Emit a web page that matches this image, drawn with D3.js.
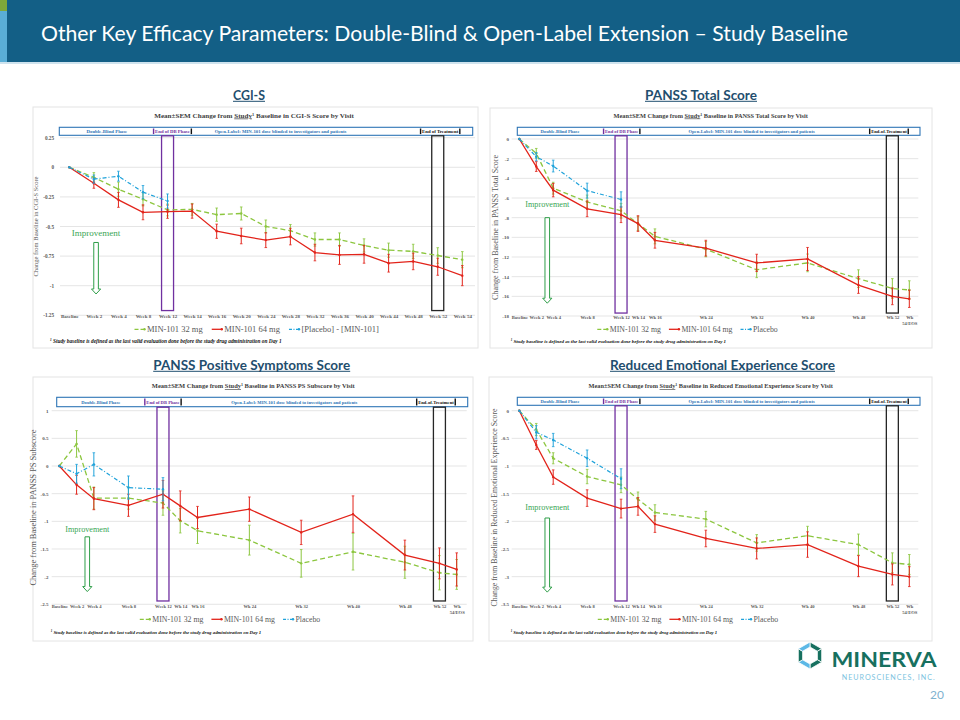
<!DOCTYPE html>
<html><head><meta charset="utf-8">
<script src="https://cdn.jsdelivr.net/npm/d3@7"></script>
<style>body{margin:0;background:#fff}svg{display:block}</style>
</head><body>
<svg id="c" width="960" height="720"></svg>
<script>
// ---------------- DATA ----------------
const cgiLabels = ["Baseline","Week 2","Week 4","Week 8","Week 12","Week 14","Week 16","Week 20","Week 24","Week 28","Week 32","Week 36","Week 40","Week 44","Week 48","Week 52","Week 54"];
const cgiSlots = [0,1,2,3,4,5,6,7,8,9,10,11,12,13,14,15,16];
const cgi32 = [0,-0.085,-0.185,-0.27,-0.36,-0.355,-0.40,-0.39,-0.50,-0.535,-0.61,-0.61,-0.66,-0.70,-0.71,-0.745,-0.78];
const cgi32Err = [0,0.04,0.06,0.056,0.05,0.05,0.056,0.055,0.055,0.052,0.056,0.056,0.056,0.06,0.06,0.066,0.068];
const cgi64 = [0,-0.135,-0.275,-0.38,-0.375,-0.37,-0.54,-0.58,-0.615,-0.585,-0.72,-0.74,-0.735,-0.81,-0.795,-0.84,-0.915];
const cgi64Err = [0,0.042,0.063,0.063,0.056,0.06,0.06,0.066,0.063,0.07,0.07,0.08,0.075,0.075,0.07,0.072,0.085];
const cgiPbo = [0,-0.10,-0.075,-0.21,-0.285];
const cgiPboErr = [0,0.035,0.042,0.056,0.06];

const visitLabels = ["Baseline","Week 2","Week 4","Week 8","Week 12","Wk 14","Wk 16","Wk 24","Wk 32","Wk 40","Wk 48","Wk 52","Wk\n54/EOS"];
const visitSlots = [0,1,2,4,6,7,8,11,14,17,20,22,23];

const tot32 = [0,-1.46,-5.0,-6.4,-7.3,-8.6,-9.9,-11.2,-13.3,-12.6,-14.2,-15.2,-15.35];
const tot32Err = [0,0.5,0.6,0.7,0.75,0.7,0.76,0.78,0.8,0.9,0.9,1.0,0.93];
const tot64 = [0,-2.8,-5.2,-7.1,-7.7,-8.6,-10.3,-11.1,-12.6,-12.2,-14.85,-16.0,-16.25];
const tot64Err = [0,0.5,0.68,0.8,0.8,0.8,0.8,0.8,0.88,1.17,0.85,0.85,0.88];
const totPbo = [0,-1.8,-2.75,-5.25,-6.15];
const totPboErr = [0,0.42,0.6,0.76,0.78];

const ps32 = [0,0.40,-0.58,-0.58,-0.67,-0.99,-1.17,-1.34,-1.76,-1.55,-1.74,-1.93,-1.96];
const ps32Err = [0,0.24,0.2,0.2,0.22,0.22,0.23,0.27,0.25,0.33,0.29,0.31,0.27];
const ps64 = [0,-0.34,-0.59,-0.71,-0.51,-0.72,-0.93,-0.78,-1.2,-0.87,-1.61,-1.76,-1.87];
const ps64Err = [0,0.17,0.2,0.2,0.25,0.27,0.2,0.22,0.22,0.33,0.27,0.28,0.3];
const psPbo = [0,-0.14,0.03,-0.39,-0.42];
const psPboErr = [0,0.17,0.21,0.21,0.21];

const ree32 = [0,-0.34,-0.86,-1.19,-1.34,-1.6,-1.84,-1.96,-2.39,-2.26,-2.42,-2.75,-2.78];
const ree32Err = [0,0.11,0.1,0.13,0.14,0.13,0.14,0.14,0.15,0.17,0.19,0.18,0.18];
const ree64 = [0,-0.62,-1.2,-1.58,-1.77,-1.73,-2.05,-2.31,-2.49,-2.42,-2.81,-2.96,-3.0];
const ree64Err = [0,0.08,0.13,0.15,0.17,0.16,0.15,0.15,0.19,0.23,0.19,0.19,0.18];
const reePbo = [0,-0.39,-0.53,-0.86,-1.23];
const reePboErr = [0,0.12,0.12,0.15,0.18];

const cgiTicks = [0.25,0,-0.25,-0.5,-0.75,-1,-1.25];
const totTicks = [0,-2,-4,-6,-8,-10,-12,-14,-16,-18];
const psTicks = [1,0.5,0,-0.5,-1,-1.5,-2,-2.5];
const reeTicks = [0,-0.5,-1,-1.5,-2,-2.5,-3,-3.5];

// ---------------- STYLE ----------------
const SERIF = "'Liberation Serif','Times New Roman',serif";
const SANS = "Lato,'Open Sans',sans-serif";
const C32 = "#8cc63f", C64 = "#e2231a", CPBO = "#1fa2da", CBAN = "#2e75b6";
const svg = d3.select("#c");

// header
svg.append("rect").attr("x",0).attr("y",0).attr("width",960).attr("height",62).attr("fill","#135f86");
svg.append("rect").attr("x",0).attr("y",62).attr("width",960).attr("height",2).attr("fill","#cfe3ee");
svg.append("rect").attr("x",0).attr("y",0).attr("width",7).attr("height",11).attr("fill","#7fa73a");
svg.append("rect").attr("x",0).attr("y",11).attr("width",7).attr("height",51).attr("fill","#5aaed6");
svg.append("text").attr("x",41).attr("y",41).attr("fill","#fff").attr("font-family",SANS)
  .attr("font-size",22).attr("textLength",807).attr("lengthAdjust","spacingAndGlyphs")
  .text("Other Key Efficacy Parameters: Double-Blind & Open-Label Extension \u2013 Study Baseline");

// section headings
const headings = [
  {t:"CGI-S", cx:249, y:99.5, w:32},
  {t:"PANSS Total Score", cx:701, y:99.5, w:112},
  {t:"PANSS Positive Symptoms Score", cx:251.7, y:369.5, w:197},
  {t:"Reduced Emotional Experience Score", cx:722.5, y:369.5, w:225}
];
headings.forEach(h=>{
  svg.append("text").attr("x",h.cx).attr("y",h.y).attr("text-anchor","middle")
    .attr("font-family",SANS).attr("font-weight","bold").attr("font-size",13.5).attr("fill","#1f4e6e")
    .attr("textLength",h.w).attr("lengthAdjust","spacingAndGlyphs").text(h.t);
  svg.append("line").attr("x1",h.cx-h.w/2).attr("x2",h.cx+h.w/2).attr("y1",h.y+1.8).attr("y2",h.y+1.8)
    .attr("stroke","#1f4e6e").attr("stroke-width",1);
});

// fit font-size of a text element (with tspans) to target width
function fitWidth(sel, base, target){
  const w = sel.node().getComputedTextLength();
  const k = target / w;
  sel.attr("font-size", base*k);
  sel.selectAll("tspan.sup").attr("font-size", base*k*0.62);
  return base*k;
}

function drawPanel(p){
  const g = svg.append("g");
  g.append("rect").attr("x",p.frame[0]).attr("y",p.frame[1]).attr("width",p.frame[2]-p.frame[0])
    .attr("height",p.frame[3]-p.frame[1]).attr("fill","#fff").attr("stroke","#e4e4e4").attr("stroke-width",1);
  const x = d3.scaleLinear().domain([p.slots[0], p.slots[p.slots.length-1]]).range(p.xRange);
  const y = d3.scaleLinear().domain(p.yDomain).range(p.yRange);

  // chart title
  const tt = g.append("text").attr("x",p.titleCx).attr("y",p.titleY).attr("text-anchor","middle")
    .attr("font-family",SERIF).attr("font-weight","bold").attr("font-size",10).attr("fill","#404040");
  tt.append("tspan").text("Mean\u00b1SEM Change from ");
  tt.append("tspan").attr("text-decoration","underline").text("Study");
  tt.append("tspan").attr("class","sup").attr("font-size",6.2).attr("baseline-shift","super").text("1");
  tt.append("tspan").text(" Baseline in " + p.measure + " by Visit");
  fitWidth(tt, 10, p.titleLen);

  // gridlines
  g.append("g").selectAll("line").data(p.yTicks).join("line")
    .attr("x1",p.gridX[0]).attr("x2",p.gridX[1]).attr("y1",d=>y(d)).attr("y2",d=>y(d))
    .attr("stroke","#dadada").attr("stroke-width",0.7);

  // y axis
  const ya = g.append("g").attr("transform",`translate(${p.yAxisX},0)`)
    .call(d3.axisLeft(y).tickValues(p.yTicks).tickSize(0).tickPadding(0).tickFormat(d=>String(d)));
  ya.select(".domain").remove();
  ya.selectAll("text").attr("font-family",SERIF).attr("font-weight","bold").attr("font-size",p.yTickFs).attr("fill","#595959");

  // x axis
  const xa = g.append("g").attr("transform",`translate(0,${p.xAxisY})`)
    .call(d3.axisBottom(x).tickValues(p.slots).tickSize(0).tickPadding(0).tickFormat(""));
  xa.select(".domain").remove();
  xa.selectAll(".tick text").each(function(d,i){
    const t = d3.select(this);
    p.labels[i].split("\n").forEach((ln,j)=>{
      t.append("tspan").attr("x",0).attr("dy", j ? "1.3em" : 0).text(ln);
    });
  });
  xa.selectAll("text").attr("font-family",SERIF).attr("font-weight","bold").attr("font-size",p.xTickFs).attr("fill","#595959");

  // y title
  const ymid = (p.yRange[0]+p.yRange[1])/2;
  g.append("text").attr("transform",`translate(${p.yTitleX},${ymid}) rotate(-90)`).attr("text-anchor","middle")
    .attr("font-family",SERIF).attr("font-size",p.yTitleFs).attr("fill","#595959")
    .attr("textLength",p.yTitleLen).attr("lengthAdjust","spacingAndGlyphs").text(p.yTitle);

  // banner
  const b = p.banner, bh = b[3]-b[1];
  g.append("rect").attr("x",b[0]).attr("y",b[1]).attr("width",b[2]-b[0]).attr("height",bh)
    .attr("fill","#fff").attr("stroke",CBAN).attr("stroke-width",1.1);
  const by = (b[1]+b[3])/2 + p.bannerFs*0.35;
  const bannerItems = [
    {t:"Double-Blind Phase", s:p.bannerPos[0], c:CBAN},
    {t:"End of DB Phase", s:p.bannerPos[1], c:"#7030a0", lb:"#7030a0", rb:"#111"},
    {t:"Open-Label: MIN-101 dose blinded to investigators and patients", s:p.bannerPos[2], c:CBAN},
    {t:p.eotText, s:p.bannerPos[3], c:"#111", lb:"#111", rb:"#111"}
  ];
  bannerItems.forEach(it=>{
    const te = g.append("text").attr("x",x(it.s)).attr("y",by).attr("text-anchor","middle")
      .attr("font-family",SERIF).attr("font-weight","bold").attr("font-size",p.bannerFs).attr("fill",it.c).text(it.t);
    if(it.lb){
      const w = te.node().getComputedTextLength();
      g.append("rect").attr("x",x(it.s)-w/2-2.2).attr("y",b[1]+1.2).attr("width",1.4).attr("height",bh-2.4).attr("fill",it.lb);
      g.append("rect").attr("x",x(it.s)+w/2+0.8).attr("y",b[1]+1.2).attr("width",1.4).attr("height",bh-2.4).attr("fill",it.rb);
    }
  });

  // phase boxes
  const boxes = [{s:p.slots[p.rectIdx[0]], c:"#7030a0"},{s:p.slots[p.rectIdx[1]], c:"#262626"}];
  g.selectAll("rect.phase").data(boxes).join("rect").attr("class","phase")
    .attr("x",d=>x(d.s)-6).attr("width",12).attr("y",b[3]+0.5).attr("height",y(p.rectBottom)-(b[3]+0.5))
    .attr("fill","none").attr("stroke",d=>d.c).attr("stroke-width",1.3);

  // improvement arrow
  const ax = x(p.impSlot);
  g.append("text").attr("x",ax).attr("y",y(p.impText)).attr("text-anchor","middle").attr("font-family",SERIF)
    .attr("font-size",p.impFs).attr("fill","#3aa655").text("Improvement");
  const a0 = y(p.impArrow[0]), a1 = y(p.impArrow[1]);
  g.append("path").attr("d",`M${ax-2.3},${a0}L${ax-2.3},${a1-5}L${ax-4.6},${a1-5}L${ax},${a1}L${ax+4.6},${a1-5}L${ax+2.3},${a1-5}L${ax+2.3},${a0}Z`)
    .attr("fill","#fff").attr("stroke","#2e9e48").attr("stroke-width",1);

  // series
  p.series.forEach(s=>{
    const pts = s.values.map((v,i)=>({xv:p.slots[i], v:v, e:s.errs[i]}));
    const sg = g.append("g");
    const eb = pts.filter(d=>d.e>0);
    sg.selectAll("line.eb").data(eb).join("line").attr("x1",d=>x(d.xv)).attr("x2",d=>x(d.xv))
      .attr("y1",d=>y(d.v+d.e)).attr("y2",d=>y(d.v-d.e)).attr("stroke",s.color).attr("stroke-width",1);
    sg.selectAll("line.cap1").data(eb).join("line").attr("x1",d=>x(d.xv)-1.3).attr("x2",d=>x(d.xv)+1.3)
      .attr("y1",d=>y(d.v+d.e)).attr("y2",d=>y(d.v+d.e)).attr("stroke",s.color).attr("stroke-width",0.8);
    sg.selectAll("line.cap2").data(eb).join("line").attr("x1",d=>x(d.xv)-1.3).attr("x2",d=>x(d.xv)+1.3)
      .attr("y1",d=>y(d.v-d.e)).attr("y2",d=>y(d.v-d.e)).attr("stroke",s.color).attr("stroke-width",0.8);
    sg.append("path").datum(pts).attr("d",d3.line().x(d=>x(d.xv)).y(d=>y(d.v)))
      .attr("fill","none").attr("stroke",s.color).attr("stroke-width",s.w).attr("stroke-dasharray",s.dash);
    sg.selectAll("circle").data(pts).join("circle").attr("cx",d=>x(d.xv)).attr("cy",d=>y(d.v)).attr("r",1.2).attr("fill",s.color);
  });

  // legend
  const lg = g.append("g");
  let cx = 0;
  p.series.forEach(s=>{
    lg.append("line").attr("x1",cx).attr("x2",cx+11).attr("y1",0).attr("y2",0).attr("stroke",s.color)
      .attr("stroke-width",s.w).attr("stroke-dasharray",s.legDash);
    lg.append("circle").attr("cx",cx+10).attr("cy",0).attr("r",1.2).attr("fill",s.color);
    const te = lg.append("text").attr("x",cx+12.5).attr("y",p.legendFs*0.33).attr("font-family",SERIF)
      .attr("font-size",p.legendFs).attr("fill","#595959").text(s.name);
    cx += 12.5 + te.node().getComputedTextLength() + p.legendGap;
  });
  const lw = cx - p.legendGap;
  lg.attr("transform",`translate(${p.legendCx - lw/2},${p.legendY})`);

  // footnote
  const ft = g.append("text").attr("x",p.footX).attr("y",p.footY).attr("font-family",SERIF).attr("font-weight","bold")
    .attr("font-style","italic").attr("font-size",10).attr("fill","#111");
  ft.append("tspan").attr("class","sup").attr("font-size",6.2).attr("baseline-shift","super").text("1");
  ft.append("tspan").text(" Study baseline is defined as the last valid evaluation done before the study drug administration on Day 1");
  fitWidth(ft, 10, p.footLen);
}

function mkSeries(v32,e32,v64,e64,vp,ep,pName){
  return [
    {name:"MIN-101 32 mg", values:v32, errs:e32, color:C32, w:1.3, dash:"5,3", legDash:"4,2"},
    {name:"MIN-101 64 mg", values:v64, errs:e64, color:C64, w:1.3, dash:null, legDash:null},
    {name:pName, values:vp, errs:ep, color:CPBO, w:1.2, dash:"4,2,1,2", legDash:"3,1.5,1,1.5"}
  ];
}

drawPanel({
  frame:[33,107,478,348], titleCx:254, titleY:117.5, titleLen:200, measure:"CGI-S Score",
  banner:[59.3,127.3,472.7,135.3], bannerFs:4.8, bannerPos:[1.53,4.2,8.6,15.1], eotText:"End of  Treatment",
  slots:cgiSlots, labels:cgiLabels, xRange:[69.3,462.3], yDomain:[-1.25,0.25], yRange:[315.3,137.7],
  yTicks:cgiTicks, gridX:[60,475], yAxisX:54, xAxisY:317.6, yTickFs:5.2, xTickFs:5,
  yTitle:"Change from Baseline in CGI-S Score", yTitleX:37.5, yTitleFs:7, yTitleLen:100,
  rectIdx:[4,15], rectBottom:-1.21,
  impSlot:1.09, impText:-0.58, impArrow:[-0.635,-1.07], impFs:9,
  series:mkSeries(cgi32,cgi32Err,cgi64,cgi64Err,cgiPbo,cgiPboErr,"[Placebo] - [MIN-101]"),
  legendY:329.3, legendCx:256.7, legendFs:8.5, legendGap:9,
  footX:50, footY:343, footLen:232
});

drawPanel({
  frame:[490,108,932,348], titleCx:710.7, titleY:117.5, titleLen:195, measure:"PANSS Total Score",
  banner:[517.3,127.3,920,135.3], bannerFs:4.6, bannerPos:[2.4,6.04,13.7,21.8], eotText:"End-of-Treatment",
  slots:visitSlots, labels:visitLabels, xRange:[519.3,909.3], yDomain:[-18,0], yRange:[316,139],
  yTicks:totTicks, gridX:[511.7,918.3], yAxisX:509, xAxisY:319, yTickFs:5, xTickFs:4.6,
  yTitle:"Change from Baseline in PANSS Total Score", yTitleX:497.5, yTitleFs:7.4, yTitleLen:145,
  rectIdx:[4,11], rectBottom:-17.7,
  impSlot:1.65, impText:-6.9, impArrow:[-8.0,-16.7], impFs:8.2,
  series:mkSeries(tot32,tot32Err,tot64,tot64Err,totPbo,totPboErr,"Placebo"),
  legendY:329.3, legendCx:687.5, legendFs:7.8, legendGap:8,
  footX:510.7, footY:343, footLen:216
});

drawPanel({
  frame:[33,377,473,641], titleCx:253.3, titleY:388.3, titleLen:203, measure:"PANSS PS Subscore",
  banner:[56.7,397.3,467.7,406.7], bannerFs:4.6, bannerPos:[2.4,6.0,13.6,21.8], eotText:"End-of-Treatment",
  slots:visitSlots, labels:visitLabels, xRange:[59.3,456.7], yDomain:[-2.5,1], yRange:[604.3,410.7],
  yTicks:psTicks, gridX:[51.7,466.7], yAxisX:48.5, xAxisY:607.6, yTickFs:5, xTickFs:4.6,
  yTitle:"Change from Baseline in PANSS PS Subscore", yTitleX:36, yTitleFs:7.8, yTitleLen:156,
  rectIdx:[4,11], rectBottom:-2.44,
  impSlot:1.62, impText:-1.2, impArrow:[-1.28,-2.27], impFs:8.2,
  series:mkSeries(ps32,ps32Err,ps64,ps64Err,psPbo,psPboErr,"Placebo"),
  legendY:619.3, legendCx:230, legendFs:7.8, legendGap:8,
  footX:50.7, footY:633.8, footLen:211
});

drawPanel({
  frame:[489,377,932,641], titleCx:710.7, titleY:388.3, titleLen:245, measure:"Reduced Emotional Experience Score",
  banner:[517.3,397.3,920,405.3], bannerFs:4.6, bannerPos:[2.4,6.04,13.7,21.8], eotText:"End-of-Treatment",
  slots:visitSlots, labels:visitLabels, xRange:[519.3,909.3], yDomain:[-3.5,0], yRange:[604.3,410.7],
  yTicks:reeTicks, gridX:[511.7,918.3], yAxisX:509, xAxisY:607.6, yTickFs:5, xTickFs:4.6,
  yTitle:"Change from Baseline in Reduced Emotional Experience Score", yTitleX:497, yTitleFs:7.4, yTitleLen:198,
  rectIdx:[4,11], rectBottom:-3.44,
  impSlot:1.65, impText:-1.8, impArrow:[-1.94,-3.28], impFs:8.2,
  series:mkSeries(ree32,ree32Err,ree64,ree64Err,reePbo,reePboErr,"Placebo"),
  legendY:619.3, legendCx:688, legendFs:7.8, legendGap:8,
  footX:510.7, footY:633.8, footLen:207
});

// logo
const lx = 810, ly = 655.5, R = 13.5, r = 8.5;
const hex = (rad,k)=>[lx + rad*Math.cos(Math.PI/180*(60*k-90)), ly + rad*Math.sin(Math.PI/180*(60*k-90))];
const segColors = ["#17705f","#17705f","#17705f","#5cb8e6","#17705f","#5cb8e6"];
segColors.forEach((c,k)=>{
  const o1 = hex(R,k), o2 = hex(R,k+1), i2 = hex(r,k+1), i1 = hex(r,k);
  svg.append("path").attr("d",`M${o1}L${o2}L${i2}L${i1}Z`).attr("fill",c).attr("stroke","#fff").attr("stroke-width",0.8);
});
svg.append("text").attr("x",831.5).attr("y",667).attr("font-family",SANS).attr("font-weight","bold")
  .attr("font-size",21).attr("fill","#17705f").attr("textLength",105).attr("lengthAdjust","spacingAndGlyphs").text("MINERVA");
svg.append("text").attr("x",841.7).attr("y",679.5).attr("font-family",SANS).attr("font-size",7.2)
  .attr("fill","#7cc3e0").attr("textLength",93).attr("lengthAdjust","spacing").text("NEUROSCIENCES, INC.");
svg.append("text").attr("x",937).attr("y",698.5).attr("text-anchor","middle").attr("font-family",SANS)
  .attr("font-size",12).attr("fill","#7fb2cf").text("20");
</script>
</body></html>
